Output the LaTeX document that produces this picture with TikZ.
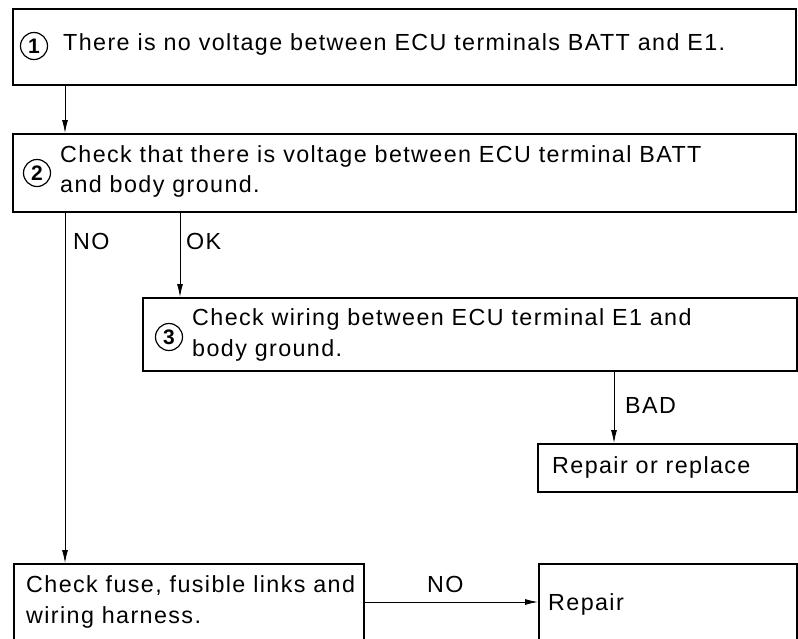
\documentclass[tikz,border=0pt]{standalone}
\usepackage{fontspec}
\setmainfont{Liberation Sans}[LetterSpace=6]
\usetikzlibrary{arrows.meta}
\begin{document}
\begin{tikzpicture}[x=1pt,y=-1pt,
  box/.style={draw,line width=1.6pt,anchor=north west,inner sep=0pt,rectangle},
  txt/.style={anchor=base west,inner sep=0pt,font=\fontsize{23.3}{27}\selectfont},
  num/.style={draw,circle,line width=1.2pt,minimum size=27pt,inner sep=0pt,font=\fontsize{21}{22}\selectfont\bfseries},
  arr/.style={line width=0.9pt,-{Latex[length=13pt,width=6pt]}},
  ln/.style={line width=0.9pt}]
\useasboundingbox (0,0) rectangle (798,638);
\fill[white] (0,0) rectangle (798,638);
% boxes
\node[box,minimum width=783pt,minimum height=76pt] (b1) at (12,8) {};
\node[box,minimum width=783pt,minimum height=78pt] (b2) at (12,133) {};
\node[box,minimum width=654pt,minimum height=73pt] (b3) at (142,297) {};
\node[box,minimum width=259pt,minimum height=48pt] (b5) at (537,443) {};
\node[box,minimum width=350pt,minimum height=76pt] (b4) at (13,563) {};
\node[box,minimum width=258pt,minimum height=76pt] (b6) at (538,563) {};
% circled numbers
\node[num] (n1) at (34,46) {1};
\node[num] (n2) at (37,173) {2};
\node[num] (n3) at (169,337) {3};
% texts
\node[txt] (t1) at (63,50) {There is no voltage between ECU terminals BATT and E1.};
\node[txt] (t2a) at (60,162) {Check that there is voltage between ECU terminal BATT};
\node[txt] (t2b) at (60,192) {and body ground.};
\node[txt] (t3a) at (192,325) {Check wiring between ECU terminal E1 and};
\node[txt] (t3b) at (192,356) {body ground.};
\node[txt] (t5) at (552,473) {Repair or replace};
\node[txt] (t4a) at (26,592) {Check fuse, fusible links and};
\node[txt] (t4b) at (26,623) {wiring harness.};
\node[txt] (t6) at (548,610) {Repair};
% connector labels
\node[txt] (lno1) at (73,249) {NO};
\node[txt] (lok) at (186,249) {OK};
\node[txt] (lbad) at (625,413) {BAD};
\node[txt] (lno2) at (427,592) {NO};
% connector x positions
\coordinate (xa) at (65,0);
\coordinate (xb) at (180,0);
\coordinate (xc) at (614,0);
\coordinate (yd) at (0,602);
% connectors
\draw[arr] (b1.south -| xa) -- (b2.north -| xa);
\draw[arr] (b2.south -| xa) -- (b4.north -| xa);
\draw[arr] (b2.south -| xb) -- (b3.north -| xb);
\draw[arr] (b3.south -| xc) -- (b5.north -| xc);
\draw[arr] (b4.east |- yd) -- (b6.west |- yd);
\end{tikzpicture}
\end{document}
